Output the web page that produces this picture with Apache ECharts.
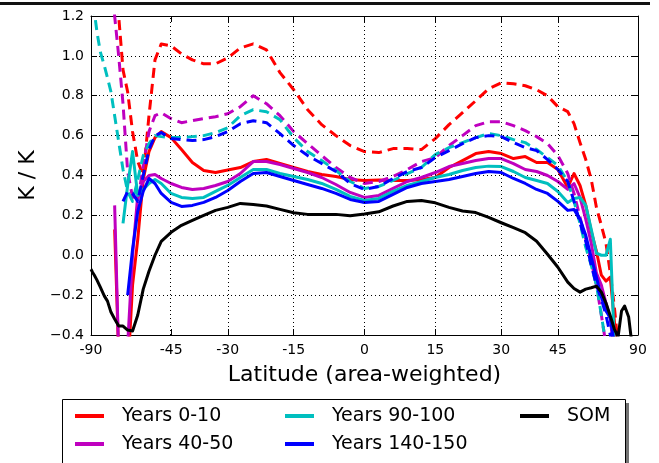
<!DOCTYPE html>
<html><head><meta charset="utf-8">
<script src="https://cdn.jsdelivr.net/npm/echarts@6/dist/echarts.min.js"></script>
<style>html,body{margin:0;padding:0;background:#fff}#c{width:659px;height:463px}</style>
</head><body><div id="c"></div>
<script>
const N = null;
// latitude grid (degrees)
const lat = [-90,-87,-84,-81,-78,-75,-72,-70,-68,-66,-64,-62,-60,-58,-56,-54,-52,-50,-48,
  -45,-42,-39,-36,-33,-30,-27,-24,-21,-18,-15,-12,-9,-6,-3,
  0,
  3,6,9,12,15,18,21,24,27,30,33,36,39,42,45,
  48,50,52,54,56,58,60,62,64,66,68,70,72,
  75,78,81,84,87,90];

const som = [-0.07,-0.075,-0.085,-0.10,-0.125,-0.16,-0.205,-0.23,-0.285,-0.32,-0.355,-0.355,-0.375,-0.38,-0.30,-0.17,-0.08,0.0,0.07,
  0.115,0.15,0.175,0.20,0.225,0.24,0.26,0.255,0.247,0.23,0.213,0.205,0.205,0.205,0.198,
  0.207,
  0.218,0.247,0.27,0.275,0.263,0.24,0.222,0.214,0.19,0.163,0.138,0.113,0.07,0.005,-0.06,
  -0.135,-0.167,-0.185,-0.17,-0.163,-0.155,-0.185,-0.24,-0.305,-0.37,-0.41,-0.28,-0.255,
  -0.31,-0.45,N,N,N,N];

const y0_10 = [N,N,N,N,N,N,N,N,N,0.13,-0.5,-0.7,-0.6,-0.15,0.08,0.38,0.52,0.59,0.62,
  0.59,0.53,0.465,0.425,0.415,0.428,0.44,0.47,0.48,0.46,0.44,0.42,0.405,0.395,0.38,
  0.375,
  0.378,0.375,0.375,0.38,0.39,0.44,0.475,0.51,0.52,0.51,0.485,0.495,0.465,0.465,0.43,
  0.34,0.41,0.35,0.25,0.12,0.02,-0.1,-0.13,-0.11,-0.33,-0.6,N,N,
  N,N,N,N,N,N];

const y0_10d = [N,N,N,N,N,N,N,N,N,1.5,1.2,0.93,0.82,0.62,0.47,0.40,0.70,0.98,1.06,
  1.05,1.01,0.98,0.96,0.96,0.99,1.04,1.06,1.03,0.916,0.83,0.73,0.655,0.60,0.55,
  0.52,
  0.515,0.535,0.535,0.53,0.585,0.655,0.715,0.775,0.835,0.865,0.86,0.85,0.83,0.80,0.745,
  0.72,0.66,0.565,0.48,0.38,0.24,0.15,0.06,-0.09,-0.26,-0.45,N,N,
  N,N,N,N,N,N];

const y40_50 = [N,N,N,N,N,N,N,N,N,0.25,-0.5,-0.7,-0.45,0.0,0.30,0.37,0.40,0.405,0.385,
  0.36,0.34,0.33,0.335,0.35,0.37,0.41,0.47,0.47,0.455,0.435,0.415,0.39,0.355,0.315,
  0.29,
  0.30,0.335,0.37,0.39,0.415,0.445,0.46,0.475,0.485,0.485,0.46,0.43,0.42,0.40,0.37,
  0.33,0.36,0.29,0.18,0.06,-0.09,-0.15,-0.24,-0.32,-0.5,N,N,N,
  N,N,N,N,N,N];

const y40_50d = [N,N,N,N,N,N,N,N,1.45,1.2,1.0,0.76,0.42,0.29,0.27,0.45,0.62,0.70,0.715,
  0.685,0.665,0.675,0.685,0.695,0.71,0.745,0.80,0.76,0.70,0.62,0.56,0.50,0.44,0.39,
  0.36,
  0.37,0.395,0.43,0.47,0.49,0.55,0.60,0.65,0.67,0.67,0.65,0.625,0.595,0.56,0.50,
  0.41,0.31,0.19,0.08,-0.03,-0.15,-0.3,-0.45,N,N,N,N,N,
  N,N,N,N,N,N];

const y90_100 = [N,N,N,N,N,N,N,N,N,N,N,0.16,0.35,0.52,0.30,0.33,0.36,0.38,0.36,
  0.31,0.29,0.285,0.29,0.32,0.35,0.39,0.43,0.43,0.41,0.395,0.38,0.36,0.33,0.295,
  0.275,
  0.285,0.32,0.35,0.37,0.39,0.405,0.425,0.44,0.447,0.445,0.42,0.39,0.375,0.36,0.32,
  0.265,0.285,0.29,0.25,0.13,0.01,0.0,0.0,0.08,-0.45,N,N,N,
  N,N,N,N,N,N];

const y90_100d = [N,N,1.5,1.22,1.12,1.02,0.95,0.89,0.82,0.70,0.57,0.43,0.32,0.27,0.38,0.50,0.56,0.60,0.595,
  0.59,0.59,0.595,0.60,0.615,0.64,0.70,0.73,0.72,0.68,0.59,0.52,0.475,0.425,0.37,
  0.335,
  0.345,0.375,0.41,0.44,0.505,0.54,0.565,0.59,0.61,0.60,0.58,0.565,0.53,0.49,0.45,
  0.37,0.27,0.16,0.04,-0.05,-0.15,-0.3,-0.45,N,N,N,N,N,
  N,N,N,N,N,N];

const y140_150 = [N,N,N,N,N,N,N,N,N,N,N,N,-0.2,0.03,0.22,0.32,0.385,0.36,0.31,
  0.265,0.245,0.25,0.265,0.29,0.325,0.37,0.41,0.415,0.395,0.375,0.355,0.335,0.31,0.28,
  0.265,
  0.27,0.305,0.34,0.36,0.37,0.38,0.395,0.41,0.42,0.415,0.385,0.36,0.33,0.31,0.27,
  0.225,0.23,0.18,0.10,-0.01,-0.11,-0.21,-0.28,-0.315,-0.45,N,N,N,
  N,N,N,N,N,N];

const y140_150d = [N,N,N,N,N,N,N,N,N,N,N,0.27,0.32,0.31,0.27,0.40,0.53,0.60,0.615,
  0.585,0.58,0.575,0.58,0.595,0.62,0.66,0.675,0.665,0.61,0.55,0.50,0.46,0.42,0.36,
  0.33,
  0.345,0.385,0.42,0.44,0.49,0.525,0.56,0.59,0.60,0.595,0.565,0.54,0.525,0.48,0.43,
  0.37,0.27,0.16,0.07,-0.05,-0.15,-0.22,-0.3,-0.4,-0.55,N,N,N,
  N,N,N,N,N,N];

const xTickLats = [-90,-45,-30,-15,0,15,30,45,90];
const xGridLats = [-45,-30,-15,0,15,30,45];

const FONT = 'DejaVu Sans';
const sinDeg = d => Math.sin(d * Math.PI / 180);
const pts = vals => lat.map((l, i) => [sinDeg(l), vals[i]]);
const xTickVals = xTickLats.map(sinDeg);

function line(name, vals, color, dashed) {
  return {
    name, type: 'line', data: pts(vals), symbol: 'none', showSymbol: false,
    lineStyle: { color, width: 3, type: dashed ? [10, 6] : 'solid', cap: 'butt', join: 'round' },
    itemStyle: { color }, clip: true, animation: false, emphasis: { disabled: true }
  };
}

const legendBase = {
  orient: 'vertical', top: 405, padding: 0, itemWidth: 29, itemHeight: 4, itemGap: 6,
  icon: 'rect', selectedMode: false,
  textStyle: { fontFamily: FONT, fontSize: 19, color: '#000', lineHeight: 22, padding: [0, 0, 0, 13] }
};

const chart = echarts.init(document.getElementById('c'), null, { renderer: 'canvas' });
chart.setOption({
  animation: false,
  backgroundColor: '#fff',
  grid: { left: 91, top: 16, width: 547, height: 319, containLabel: false, outerBoundsMode: 'none' },
  xAxis: [{
    type: 'value', min: -1, max: 1, position: 'bottom',
    axisLine: { show: true, onZero: false, lineStyle: { color: '#000', width: 1 } },
    axisTick: { show: true, inside: true, length: 6, customValues: xTickVals, lineStyle: { color: '#000' } },
    axisLabel: {
      customValues: xTickVals, margin: 8, fontSize: 14, fontFamily: FONT, color: '#000',
      formatter: v => String(Math.round(Math.asin(Math.max(-1, Math.min(1, v))) * 180 / Math.PI))
    },
    splitLine: { show: false },
    name: 'Latitude (area-weighted)', nameLocation: 'middle', nameGap: 29,
    nameTextStyle: { fontSize: 22, fontFamily: FONT, color: '#000' }
  }, {
    type: 'value', min: -1, max: 1, position: 'top',
    axisLine: { show: true, onZero: false, lineStyle: { color: '#000', width: 1 } },
    axisTick: { show: true, inside: true, length: 6, customValues: xTickVals, lineStyle: { color: '#000' } },
    axisLabel: { show: false }, splitLine: { show: false }
  }],
  yAxis: [{
    type: 'value', min: -0.4, max: 1.2, interval: 0.2, position: 'left',
    axisLine: { show: true, onZero: false, lineStyle: { color: '#000', width: 1 } },
    axisTick: { show: true, inside: true, length: 6, lineStyle: { color: '#000' } },
    axisLabel: {
      margin: 7, fontSize: 14, fontFamily: FONT, color: '#000',
      formatter: v => (v < -1e-9 ? '\u2212' : '') + Math.abs(v).toFixed(1)
    },
    splitLine: { show: true, lineStyle: { type: [1, 3], color: '#000', width: 1 } },
    name: 'K / K', nameLocation: 'middle', nameGap: 50,
    nameTextStyle: { fontSize: 22, fontFamily: FONT, color: '#000' }
  }, {
    type: 'value', min: -0.4, max: 1.2, interval: 0.2, position: 'right',
    axisLine: { show: true, onZero: false, lineStyle: { color: '#000', width: 1 } },
    axisTick: { show: true, inside: true, length: 6, lineStyle: { color: '#000' } },
    axisLabel: { show: false }, splitLine: { show: false }
  }],
  legend: [
    Object.assign({}, legendBase, { left: 75, data: ['Years 0-10', 'Years 40-50'] }),
    Object.assign({}, legendBase, { left: 285, data: ['Years 90-100', 'Years 140-150'] }),
    Object.assign({}, legendBase, { left: 520, data: ['SOM'] })
  ],
  graphic: [
    { type: 'line', shape: { x1: 0, y1: 3.5, x2: 650, y2: 3.5 }, style: { stroke: '#111', lineWidth: 3 } },
    { type: 'rect', z: 2, shape: { x: 66, y: 403, width: 563, height: 80 },
      style: { fill: 'rgba(0,0,0,0.55)', stroke: null } },
    { type: 'rect', z: 3, shape: { x: 62.5, y: 399.5, width: 563, height: 80 },
      style: { fill: '#fff', stroke: '#000', lineWidth: 1 } }
  ],
  series: [
    {
      name: 'grid', type: 'line', data: [], symbol: 'none', z: 1, silent: true,
      markLine: {
        silent: true, symbol: ['none', 'none'], label: { show: false }, animation: false,
        lineStyle: { type: [1, 3], color: '#000', width: 1 },
        data: xGridLats.map(l => ({ xAxis: sinDeg(l) }))
      }
    },
    line('Years 0-10', y0_10, '#ff0000', false),
    line('Years 0-10 dashed', y0_10d, '#ff0000', true),
    line('Years 40-50', y40_50, '#bf00bf', false),
    line('Years 40-50 dashed', y40_50d, '#bf00bf', true),
    line('Years 90-100', y90_100, '#00bfbf', false),
    line('Years 90-100 dashed', y90_100d, '#00bfbf', true),
    line('Years 140-150', y140_150, '#0000ff', false),
    line('Years 140-150 dashed', y140_150d, '#0000ff', true),
    line('SOM', som, '#000000', false)
  ]
});
</script>
</body></html>
